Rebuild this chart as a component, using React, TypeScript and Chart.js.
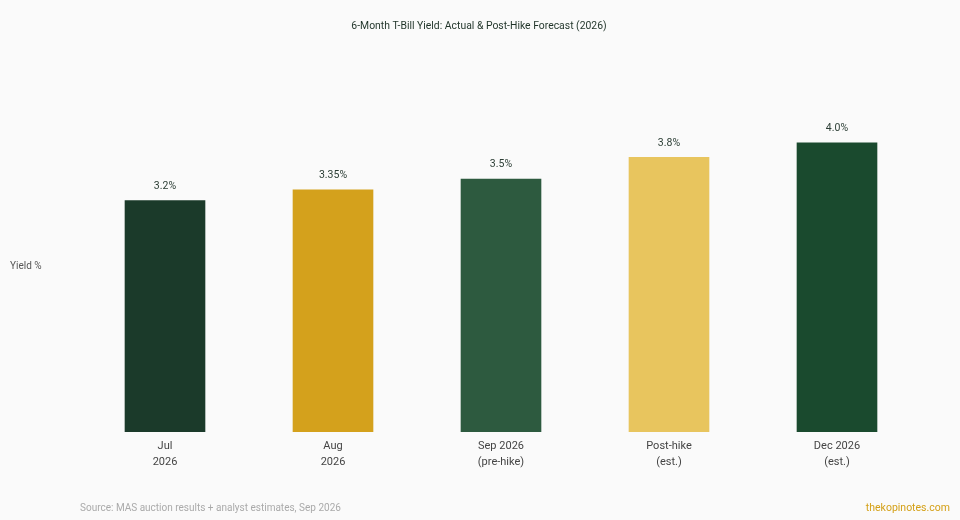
import { useEffect, useRef } from "react";
import { Chart, registerables } from "chart.js";

Chart.register(...registerables);

const categories: string[][] = [
  ["Jul", "2026"],
  ["Aug", "2026"],
  ["Sep 2026", "(pre-hike)"],
  ["Post-hike", "(est.)"],
  ["Dec 2026", "(est.)"],
];
const yields = [3.2, 3.35, 3.5, 3.8, 4.0];
const valueLabels = ["3.2%", "3.35%", "3.5%", "3.8%", "4.0%"];
const barColors = ["#1b3a2a", "#d4a11c", "#2d5a3f", "#e8c55e", "#1a4a2e"];

const FONT = "Roboto, 'Noto Sans', sans-serif";

const textPlugin = {
  id: "texts",
  afterDatasetsDraw(chart: Chart) {
    const { ctx } = chart;
    ctx.save();
    ctx.textBaseline = "middle";

    // title
    ctx.fillStyle = "#1f3328";
    ctx.font = `10.4px ${FONT}`;
    ctx.textAlign = "center";
    ctx.fillText("6-Month T-Bill Yield: Actual & Post-Hike Forecast (2026)", 479, 26);

    // y axis label
    ctx.fillStyle = "#555";
    ctx.font = `10px ${FONT}`;
    ctx.textAlign = "left";
    ctx.fillText("Yield %", 10, 266);

    // value labels above bars
    ctx.fillStyle = "#2c3e35";
    ctx.font = `10.5px ${FONT}`;
    ctx.textAlign = "center";
    const meta = chart.getDatasetMeta(0);
    meta.data.forEach((bar: any, i: number) => {
      ctx.fillText(valueLabels[i], bar.x, bar.y - 14);
    });

    // footer
    ctx.fillStyle = "#aaaaaa";
    ctx.font = `10px ${FONT}`;
    ctx.textAlign = "left";
    ctx.fillText("Source: MAS auction results + analyst estimates, Sep 2026", 80, 508);

    ctx.fillStyle = "#d4a017";
    ctx.textAlign = "right";
    ctx.font = `10.5px ${FONT}`;
    ctx.fillText("thekopinotes.com", 950, 508);
    ctx.restore();
  },
};

export default function App() {
  const canvasRef = useRef<HTMLCanvasElement>(null);

  useEffect(() => {
    const ctx = canvasRef.current?.getContext("2d");
    if (!ctx) return;

    const chart = new Chart(ctx, {
      type: "bar",
      data: {
        labels: categories,
        datasets: [
          {
            data: yields,
            backgroundColor: barColors,
            borderWidth: 0,
            barPercentage: 0.6,
            categoryPercentage: 0.8,
          },
        ],
      },
      options: {
        responsive: false,
        animation: false,
        layout: { padding: { left: 81, right: 39, top: 70, bottom: 44 } },
        plugins: {
          legend: { display: false },
          title: { display: false },
          tooltip: { enabled: false },
        },
        scales: {
          x: {
            grid: { display: false, drawTicks: false },
            border: { display: false },
            ticks: {
              padding: 6,
              color: "#444",
              font: { family: FONT, size: 11, lineHeight: 1.45 },
            },
          },
          y: {
            display: false,
            min: 0,
            max: 5,
          },
        },
      },
      plugins: [textPlugin],
    });

    return () => chart.destroy();
  }, []);

  return (
    <div
      style={{
        position: "fixed",
        left: 0,
        top: 0,
        width: 960,
        height: 520,
        background: "#fafafa",
      }}
    >
      <canvas ref={canvasRef} width={960} height={520} />
    </div>
  );
}
